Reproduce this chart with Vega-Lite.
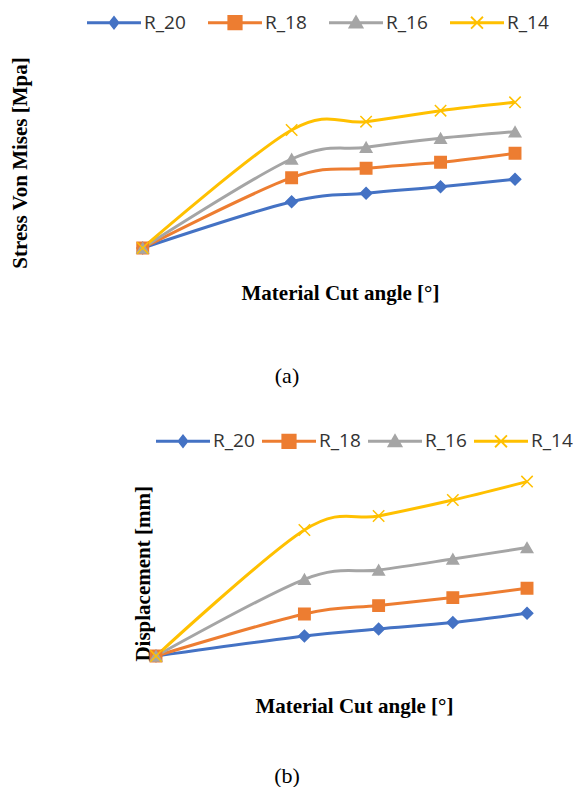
{
  "$schema": "https://vega.github.io/schema/vega-lite/v6.json",
  "background": "white",
  "padding": {"left": 8, "top": 12, "right": 0, "bottom": 0},
  "spacing": 44,
  "config": {
    "view": {"stroke": null},
    "axis": {"grid": false, "labels": false, "ticks": false, "domain": false}
  },
  "resolve": {
    "scale": {"color": "independent", "stroke": "independent", "shape": "independent", "fill": "independent"},
    "legend": {"color": "independent", "shape": "independent", "fill": "independent"}
  },
  "datasets": {
    "stress": [
      {"series": "R_20", "angle": 0, "value": 0},
      {"series": "R_20", "angle": 30, "value": 46.3},
      {"series": "R_20", "angle": 45, "value": 54.7},
      {"series": "R_20", "angle": 60, "value": 61.3},
      {"series": "R_20", "angle": 75, "value": 68.7},
      {"series": "R_18", "angle": 0, "value": 0},
      {"series": "R_18", "angle": 30, "value": 70.3},
      {"series": "R_18", "angle": 45, "value": 79.7},
      {"series": "R_18", "angle": 60, "value": 85.7},
      {"series": "R_18", "angle": 75, "value": 94.7},
      {"series": "R_16", "angle": 0, "value": 0},
      {"series": "R_16", "angle": 30, "value": 89},
      {"series": "R_16", "angle": 45, "value": 100.7},
      {"series": "R_16", "angle": 60, "value": 109.7},
      {"series": "R_16", "angle": 75, "value": 116.3},
      {"series": "R_14", "angle": 0, "value": 0},
      {"series": "R_14", "angle": 30, "value": 118},
      {"series": "R_14", "angle": 45, "value": 126.3},
      {"series": "R_14", "angle": 60, "value": 137.3},
      {"series": "R_14", "angle": 75, "value": 145.7}
    ],
    "displacement": [
      {"series": "R_20", "angle": 0, "value": 0},
      {"series": "R_20", "angle": 30, "value": 20},
      {"series": "R_20", "angle": 45, "value": 27},
      {"series": "R_20", "angle": 60, "value": 33.4},
      {"series": "R_20", "angle": 75, "value": 42.7},
      {"series": "R_18", "angle": 0, "value": 0},
      {"series": "R_18", "angle": 30, "value": 42},
      {"series": "R_18", "angle": 45, "value": 50.4},
      {"series": "R_18", "angle": 60, "value": 58.4},
      {"series": "R_18", "angle": 75, "value": 67.7},
      {"series": "R_16", "angle": 0, "value": 0},
      {"series": "R_16", "angle": 30, "value": 76.7},
      {"series": "R_16", "angle": 45, "value": 86},
      {"series": "R_16", "angle": 60, "value": 97},
      {"series": "R_16", "angle": 75, "value": 108.4},
      {"series": "R_14", "angle": 0, "value": 0},
      {"series": "R_14", "angle": 30, "value": 126},
      {"series": "R_14", "angle": 45, "value": 140},
      {"series": "R_14", "angle": 60, "value": 156},
      {"series": "R_14", "angle": 75, "value": 174.4}
    ]
  },
  "vconcat": [
    {
      "width": 400,
      "height": 160,
      "data": {"name": "stress"},
      "title": {"text": "(a)", "orient": "bottom", "anchor": "middle", "frame": "group", "dx": -52, "offset": 63, "font": "Liberation Serif", "fontSize": 22, "fontWeight": "normal", "color": "black"},
      "resolve": {"scale": {"shape": "independent", "fill": "independent"}, "legend": {"shape": "independent", "fill": "independent"}},
      "encoding": {
        "x": {"field": "angle", "type": "quantitative", "scale": {"domain": [-0.745, 79.83], "nice": false, "zero": false},
          "axis": {"title": "Material Cut angle [°]", "titleFont": "Liberation Serif", "titleFontSize": 21, "titleFontWeight": "bold", "titleColor": "black", "titleX": 201, "titleY": 51, "titleAlign": "center", "titleBaseline": "alphabetic"}},
        "y": {"field": "value", "type": "quantitative", "scale": {"domain": [0, 160], "nice": false},
          "axis": {"title": "Stress Von Mises [Mpa]", "titleFont": "Liberation Serif", "titleFontSize": 21, "titleFontWeight": "bold", "titleColor": "black", "titleX": -119, "titleY": 74.5, "titleAngle": 270, "titleAlign": "center", "titleBaseline": "middle"}}
      },
      "layer": [
        {
          "mark": {"type": "line", "interpolate": "cardinal", "strokeWidth": 3},
          "encoding": {
            "stroke": {"field": "series", "type": "nominal", "sort": "descending", "scale": {"range": ["#4472C4", "#ED7D31", "#A5A5A5", "#FFC000"]}, "legend": null}
          }
        },
        {
          "mark": {"type": "point", "filled": true, "opacity": 1, "size": 130, "strokeWidth": 1.5},
          "encoding": {
            "stroke": {"field": "series", "type": "nominal", "sort": "descending", "scale": {"range": ["#4472C4", "#ED7D31", "#A5A5A5", "#FFC000"]}, "legend": null},
            "color": {"field": "series", "type": "nominal", "sort": "descending", "scale": {"range": ["#4472C4", "#ED7D31", "#A5A5A5", "#FFC000"]}, "legend": null},
            "shape": {"field": "series", "type": "nominal", "sort": "descending", "scale": {"range": ["diamond", "square", "triangle-up", "M-1,-1L1,1M-1,1L1,-1"]}, "legend": null}
          }
        },
        {
          "mark": {"type": "point", "filled": true, "opacity": 0, "size": 10},
          "encoding": {
            "fill": {"field": "series", "type": "nominal", "scale": {"domain": ["R_20", "R_18", "R_16", "R_14"], "range": ["#4472C4", "#ED7D31", "#A5A5A5", "#FFC000"]},
              "legend": {"orient": "none", "legendX": -52, "legendY": -75.3, "direction": "horizontal", "columns": 4, "columnPadding": 22, "title": null, "padding": 0, "symbolSize": 400, "symbolStrokeWidth": 0, "symbolOpacity": 1, "labelOffset": 37, "labelFont": "Open Sans", "labelFontSize": 19, "labelColor": "#333333"}},
            "shape": {"field": "series", "type": "nominal", "scale": {"domain": ["R_20", "R_18", "R_16", "R_14"], "range": [
              "M-1,-0.15H4.4V0.15H-1ZM1.7,-0.73L2.27,0L1.7,0.73L1.13,0Z",
              "M-1,-0.15H4.4V0.15H-1ZM0.94,-0.76H2.46V0.76H0.94Z",
              "M-1,-0.15H4.4V0.15H-1ZM1.7,-0.81L2.51,0.59H0.89Z",
              "M-1,-0.15H4.4V0.15H-1ZM1.17,-0.66L2.36,0.53L2.23,0.66L1.04,-0.53ZM1.04,0.53L2.23,-0.66L2.36,-0.53L1.17,0.66Z"]},
              "legend": {"orient": "none", "legendX": -52, "legendY": -75.3, "direction": "horizontal", "columns": 4, "columnPadding": 22, "title": null, "padding": 0, "symbolSize": 400, "symbolStrokeWidth": 0, "symbolOpacity": 1, "labelOffset": 37, "labelFont": "Open Sans", "labelFontSize": 19, "labelColor": "#333333"}}
          }
        }
      ]
    },
    {
      "width": 400,
      "height": 180,
      "data": {"name": "displacement"},
      "title": {"text": "(b)", "orient": "bottom", "anchor": "middle", "frame": "group", "dx": -52, "offset": 50, "font": "Liberation Serif", "fontSize": 22, "fontWeight": "normal", "color": "black"},
      "resolve": {"scale": {"shape": "independent", "fill": "independent"}, "legend": {"shape": "independent", "fill": "independent"}},
      "encoding": {
        "x": {"field": "angle", "type": "quantitative", "scale": {"domain": [-3.437, 77.42], "nice": false, "zero": false},
          "axis": {"title": "Material Cut angle [°]", "titleFont": "Liberation Serif", "titleFontSize": 21, "titleFontWeight": "bold", "titleColor": "black", "titleX": 215, "titleY": 56.3, "titleAlign": "center", "titleBaseline": "alphabetic"}},
        "y": {"field": "value", "type": "quantitative", "scale": {"domain": [0, 180], "nice": false},
          "axis": {"title": "Displacement [mm]", "titleFont": "Liberation Serif", "titleFontSize": 21, "titleFontWeight": "bold", "titleColor": "black", "titleX": 4, "titleY": 97.3, "titleAngle": 270, "titleAlign": "center", "titleBaseline": "middle"}}
      },
      "layer": [
        {
          "mark": {"type": "line", "interpolate": "cardinal", "strokeWidth": 3},
          "encoding": {
            "stroke": {"field": "series", "type": "nominal", "sort": "descending", "scale": {"range": ["#4472C4", "#ED7D31", "#A5A5A5", "#FFC000"]}, "legend": null}
          }
        },
        {
          "mark": {"type": "point", "filled": true, "opacity": 1, "size": 130, "strokeWidth": 1.5},
          "encoding": {
            "stroke": {"field": "series", "type": "nominal", "sort": "descending", "scale": {"range": ["#4472C4", "#ED7D31", "#A5A5A5", "#FFC000"]}, "legend": null},
            "color": {"field": "series", "type": "nominal", "sort": "descending", "scale": {"range": ["#4472C4", "#ED7D31", "#A5A5A5", "#FFC000"]}, "legend": null},
            "shape": {"field": "series", "type": "nominal", "sort": "descending", "scale": {"range": ["diamond", "square", "triangle-up", "M-1,-1L1,1M-1,1L1,-1"]}, "legend": null}
          }
        },
        {
          "mark": {"type": "point", "filled": true, "opacity": 0, "size": 10},
          "encoding": {
            "fill": {"field": "series", "type": "nominal", "scale": {"domain": ["R_20", "R_18", "R_16", "R_14"], "range": ["#4472C4", "#ED7D31", "#A5A5A5", "#FFC000"]},
              "legend": {"orient": "none", "legendX": 17, "legendY": -44.7, "direction": "horizontal", "columns": 4, "columnPadding": 7, "title": null, "padding": 0, "symbolSize": 400, "symbolStrokeWidth": 0, "symbolOpacity": 1, "labelOffset": 37, "labelFont": "Open Sans", "labelFontSize": 19, "labelColor": "#333333"}},
            "shape": {"field": "series", "type": "nominal", "scale": {"domain": ["R_20", "R_18", "R_16", "R_14"], "range": [
              "M-1,-0.15H4.4V0.15H-1ZM1.7,-0.73L2.27,0L1.7,0.73L1.13,0Z",
              "M-1,-0.15H4.4V0.15H-1ZM0.94,-0.76H2.46V0.76H0.94Z",
              "M-1,-0.15H4.4V0.15H-1ZM1.7,-0.81L2.51,0.59H0.89Z",
              "M-1,-0.15H4.4V0.15H-1ZM1.17,-0.66L2.36,0.53L2.23,0.66L1.04,-0.53ZM1.04,0.53L2.23,-0.66L2.36,-0.53L1.17,0.66Z"]},
              "legend": {"orient": "none", "legendX": 17, "legendY": -44.7, "direction": "horizontal", "columns": 4, "columnPadding": 7, "title": null, "padding": 0, "symbolSize": 400, "symbolStrokeWidth": 0, "symbolOpacity": 1, "labelOffset": 37, "labelFont": "Open Sans", "labelFontSize": 19, "labelColor": "#333333"}}
          }
        }
      ]
    }
  ]
}
